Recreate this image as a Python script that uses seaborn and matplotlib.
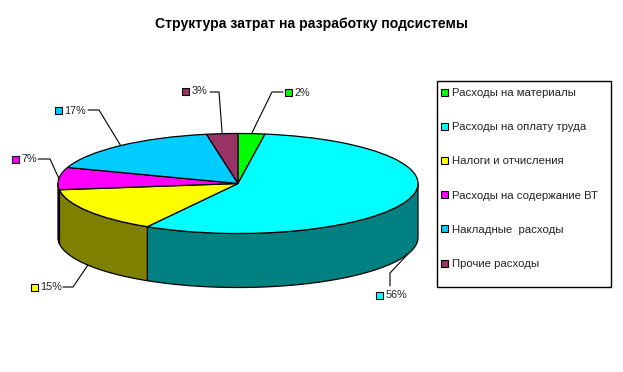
import numpy as np
import seaborn as sns
import matplotlib
matplotlib.use("Agg")
import matplotlib.pyplot as plt
from matplotlib.colors import to_rgb
from matplotlib.patches import Rectangle

# Data
title = "Структура затрат на разработку подсистемы"
categories = [
    "Расходы на материалы",
    "Расходы на оплату труда",
    "Налоги и отчисления",
    "Расходы на содержание ВТ",
    "Накладные  расходы",
    "Прочие расходы",
]
values = [2.4, 56.0, 14.6, 7.2, 17.0, 2.8]
colors = ["#00ff00", "#00ffff", "#ffff00", "#ff00ff", "#00ccff", "#993366"]

# Pie geometry in pixels
W, H = 623, 372
cx, cy = 238, 183.5
rx, ry = 180, 50
depth = 54

# Leader elbow, leader end, marker centre for each slice label
elbows = [(272, 92), (390, 273), (73, 287), (50, 159), (99, 110), (219, 92)]
ends = [(283, 92), (390, 286), (63, 287), (38, 159), (88, 110), (210, 92)]
markers = [(288, 92.5), (379, 295), (34, 287), (15, 159), (58, 110), (185, 91)]

sns.set_theme(style="white")
plt.rcParams["font.family"] = ["Liberation Sans", "DejaVu Sans"]

fig = plt.figure(figsize=(W / 100, H / 100), dpi=100, facecolor="white")

# Pie axes: one unit is rx pixels across and ry pixels down
ax = fig.add_axes([0, 0, 1, 1])
ax.pie(values, colors=colors, startangle=90, counterclock=False,
       wedgeprops={"edgecolor": "black", "linewidth": 0.9})
ax.set_aspect("auto")
ax.set_xlim(-cx / rx, (W - cx) / rx)
ax.set_ylim(-(H - cy) / ry, cy / ry)

# Side wall, only the front half (90 to 270 degrees clockwise from the top) shows
edges = np.cumsum([0] + values) / sum(values) * 360
d = depth / ry
for start, stop, c in zip(edges[:-1], edges[1:], colors):
    a, b = max(start, 90), min(stop, 270)
    if a >= b:
        continue
    t = np.radians(np.linspace(a, b, 80))
    xs = np.r_[np.sin(t), np.sin(t[::-1])]
    ys = np.r_[np.cos(t), np.cos(t[::-1]) - d]
    dark = tuple(v * 0.5 for v in to_rgb(c))
    ax.fill(xs, ys, facecolor=dark, edgecolor="black", linewidth=0.9, zorder=0)

# Overlay in pixel coordinates for title, labels and legend
ov = fig.add_axes([0, 0, 1, 1])
ov.set_xlim(0, W)
ov.set_ylim(H, 0)
ov.axis("off")
ov.patch.set_alpha(0)

ov.text(311.5, 24, title, ha="center", va="center", fontsize=10.1,
        fontweight="bold", color="black")

mids = (edges[:-1] + edges[1:]) / 2
for i, m in enumerate(mids):
    t = np.radians(m)
    sx = cx + rx * np.sin(t)
    sy = cy - ry * np.cos(t)
    if 90 < m < 270:
        sy += depth
    ov.plot([sx, elbows[i][0], ends[i][0]], [sy, elbows[i][1], ends[i][1]],
            color="black", lw=0.8)
    mx, my = markers[i]
    ov.add_patch(Rectangle((mx - 3.5, my - 3.5), 7, 7, facecolor=colors[i],
                           edgecolor="black", lw=0.8))
    ov.text(mx + 6.5, my + 0.5, f"{round(values[i])}%", ha="left", va="center",
            fontsize=7.8, color="#222222")

# Legend box
ov.add_patch(Rectangle((436.5, 80.5), 174, 206.5, facecolor="white",
                       edgecolor="black", lw=1))
for i, name in enumerate(categories):
    y = 92.5 + i * 34.2
    ov.add_patch(Rectangle((441, y - 4), 7, 7, facecolor=colors[i],
                           edgecolor="black", lw=0.8))
    ov.text(451.5, y + 0.5, name, ha="left", va="center", fontsize=8.2, color="#222222")

fig.savefig("out.png", dpi=100)
